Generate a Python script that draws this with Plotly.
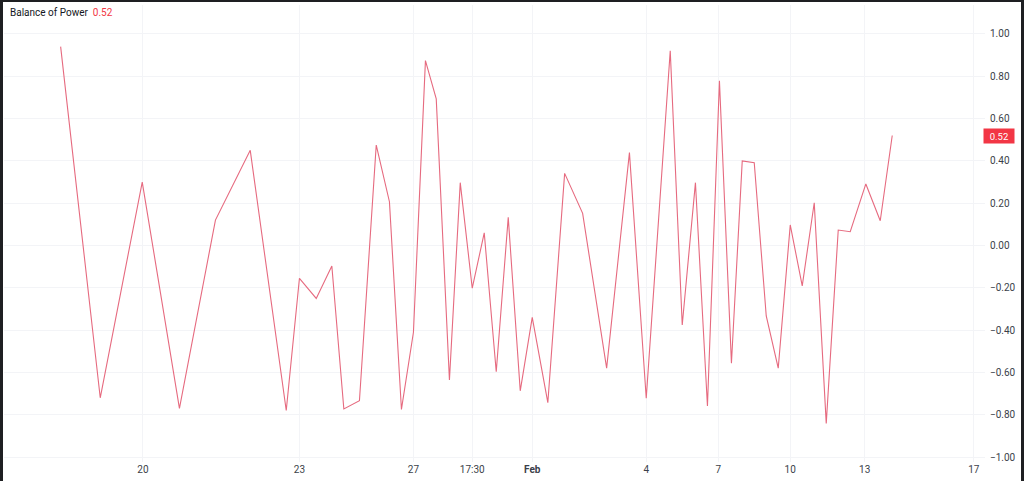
import plotly.graph_objects as go

# Bar positions (index units along the time scale) and Balance of Power values
bar_pos = [0, 3.3, 6.8, 9.9, 12.9, 15.8, 18.8, 19.9, 21.3, 22.6,
           23.6, 24.9, 26.3, 27.4, 28.4, 29.4, 30.4, 31.3, 32.4, 33.3,
           34.3, 35.3, 36.3, 37.3, 38.3, 39.3, 40.6, 42.0, 43.5, 45.5,
           47.4, 48.8, 50.8, 51.8, 52.9, 53.9, 54.9, 55.9, 56.8, 57.8,
           58.8, 59.8, 60.8, 61.8, 62.8, 63.8, 64.8, 65.8, 67.1, 68.3,
           69.3]
bop = [0.94, -0.72, 0.30, -0.77, 0.12, 0.45, -0.78, -0.155, -0.25, -0.097,
       -0.773, -0.734, 0.475, 0.207, -0.775, -0.41, 0.874, 0.693, -0.636, 0.297,
       -0.202, 0.06, -0.597, 0.133, -0.687, -0.34, -0.743, 0.341, 0.152, -0.58,
       0.439, -0.722, 0.921, -0.376, 0.297, -0.759, 0.779, -0.557, 0.40, 0.391,
       -0.333, -0.58, 0.097, -0.191, 0.202, -0.841, 0.073, 0.065, 0.291, 0.117,
       0.52]

x_tick_pos = [6.86, 19.9, 29.4, 34.3, 39.3, 48.8, 54.8, 60.8, 67.0, 76.1]
x_tick_text = ["20", "23", "27", "17:30", "<b>Feb</b>", "4", "7", "10", "13", "17"]

title_text = "Balance of Power"
line_color = "#e66a7f"
label_red = "#f23645"
text_color = "#3b3f4a"
grid_color = "#f3f4f7"

W, H = 1024, 481
ML, MR, MT, MB = 4, 39, 5, 19
PW, PH = W - ML - MR, H - MT - MB

def px_x(px):
    return (px - ML) / PW

def px_y(py):
    return (H - MB - py) / PH

fig = go.Figure()
fig.add_trace(go.Scatter(x=bar_pos, y=bop, mode="lines",
                         line=dict(color=line_color, width=1.1),
                         hoverinfo="skip", showlegend=False))

fig.update_layout(
    width=W, height=H,
    margin=dict(l=ML, r=MR, t=MT, b=MB),
    paper_bgcolor="white", plot_bgcolor="white",
    font=dict(family="Roboto, Liberation Sans, Arial", size=10, color=text_color),
    xaxis=dict(range=[-4.72, 77.03], tickvals=x_tick_pos, ticktext=x_tick_text,
               showgrid=True, gridcolor=grid_color, gridwidth=1,
               zeroline=False, showline=False, ticks="",
               tickfont=dict(size=10, color=text_color)),
    yaxis=dict(range=[-1.0236, 1.137], side="right", tick0=0, dtick=0.2,
               tickformat=".2f", showgrid=True, gridcolor=grid_color, gridwidth=1,
               zeroline=False, showline=False, ticks="", ticklabelstandoff=4,
               tickfont=dict(size=10, color=text_color)),
    showlegend=False,
)

last_val = bop[-1]
fig.add_annotation(xref="paper", yref="paper", x=px_x(8), y=px_y(13),
                   xanchor="left", yanchor="middle", showarrow=False,
                   text=f"{title_text}&nbsp;&nbsp;<span style='color:{label_red}'>{last_val:.2f}</span>",
                   font=dict(size=10, color="#131722"))
fig.add_annotation(xref="paper", yref="y", x=px_x(983), y=last_val,
                   xanchor="left", yanchor="middle", showarrow=False,
                   text=f"{last_val:.2f}", bgcolor=label_red, borderpad=1,
                   width=28, height=12, align="center",
                   font=dict(size=9.5, color="white"))

border = "#1e1f22"
for x0, x1, y0, y1 in [(0, 3, 0, H), (1021, W, 0, H), (0, W, 0, 2)]:
    fig.add_shape(type="rect", xref="paper", yref="paper",
                  x0=px_x(x0), x1=px_x(x1), y0=px_y(y1), y1=px_y(y0),
                  fillcolor=border, line=dict(width=0), layer="above")

fig.write_html("out.html", config={"displayModeBar": False},
               post_script="document.body.style.margin='0';")
